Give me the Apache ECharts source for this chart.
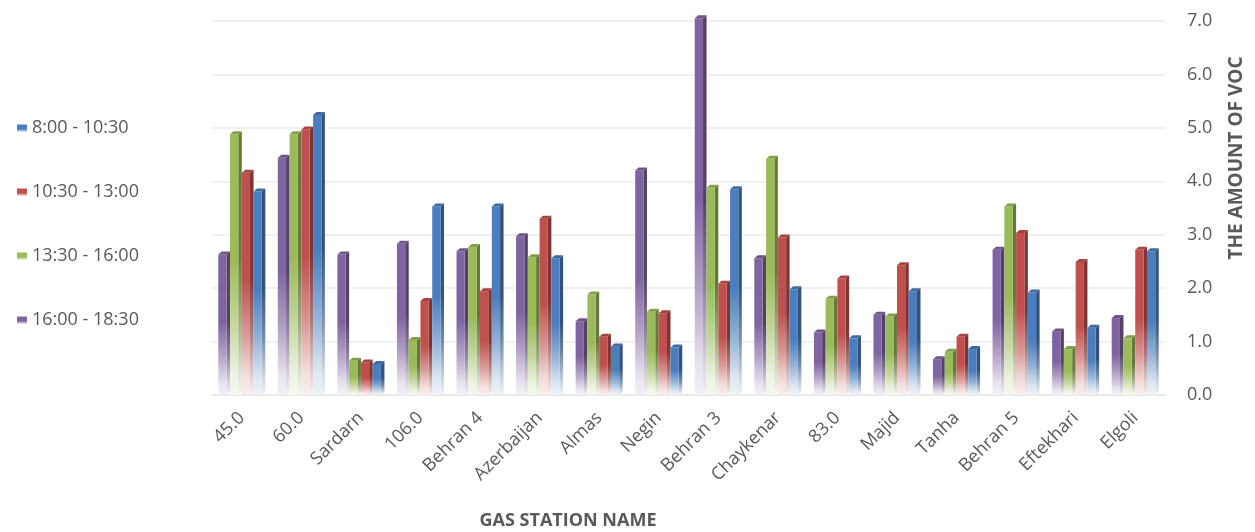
<!DOCTYPE html>
<html>
<head>
<meta charset="utf-8">
<title>VOC by gas station</title>
<script src="https://cdn.jsdelivr.net/npm/echarts@6/dist/echarts.min.js"></script>
<style>
  html, body { margin: 0; padding: 0; background: #fff; }
  #chart { width: 1255px; height: 532px; }
</style>
</head>
<body>
<div id="chart"></div>
<script>
// Gas stations along the category axis
const stations = ['45.0', '60.0', 'Sardarn', '106.0', 'Behran 4', 'Azerbaijan', 'Almas', 'Negin',
  'Behran 3', 'Chaykenar', '83.0', 'Majid', 'Tanha', 'Behran 5', 'Eftekhari', 'Elgoli'];

// Measured VOC per time window
const voc_1600_1830 = [2.63, 4.44, 2.63, 2.83, 2.69, 2.97, 1.38, 4.20, 7.05, 2.56, 1.17, 1.50, 0.67, 2.72, 1.19, 1.44];
const voc_1330_1600 = [4.88, 4.88, 0.64, 1.03, 2.77, 2.58, 1.88, 1.56, 3.88, 4.42, 1.80, 1.47, 0.81, 3.53, 0.86, 1.06];
const voc_1030_1300 = [4.16, 4.97, 0.61, 1.76, 1.94, 3.30, 1.09, 1.53, 2.08, 2.95, 2.18, 2.43, 1.09, 3.03, 2.49, 2.72];
const voc_0800_1030 = [3.81, 5.24, 0.58, 3.53, 3.53, 2.56, 0.91, 0.89, 3.85, 1.98, 1.06, 1.94, 0.86, 1.92, 1.26, 2.69];

const yTicks = [0, 1, 2, 3, 4, 5, 6, 7];

const FONT = '"Open Sans", "Liberation Sans", sans-serif';
const TEXT = '#595959';

// Series drawn left to right inside each group
const seriesDefs = [
  { name: '16:00 - 18:30', data: voc_1600_1830, color: '#8064A2' },
  { name: '13:30 - 16:00', data: voc_1330_1600, color: '#9BBB59' },
  { name: '10:30 - 13:00', data: voc_1030_1300, color: '#C0504D' },
  { name: '8:00 - 10:30',  data: voc_0800_1030, color: '#4A7EBF' }
];

// colour helpers working on [r, g, b]
function rgbOf(hex) {
  const n = parseInt(hex.slice(1), 16);
  return [(n >> 16) & 255, (n >> 8) & 255, n & 255];
}
function css(c) { return 'rgb(' + c.map(v => Math.round(v)).join(',') + ')'; }
function shade(hex, white, black) {
  // mix towards white first, then towards black
  let c = rgbOf(hex).map(v => v + (255 - v) * white);
  c = c.map(v => v * (1 - black));
  return css(c);
}

function faceGradient(hex, dark) {
  return {
    type: 'linear', x: 0, y: 0, x2: 0, y2: 1,
    colorStops: [
      { offset: 0, color: shade(hex, 0, dark) },
      { offset: 0.48, color: shade(hex, 0, dark) },
      { offset: 0.72, color: shade(hex, 0.4, dark * 0.6) },
      { offset: 0.92, color: shade(hex, 0.82, dark * 0.2) },
      { offset: 1, color: shade(hex, 0.9, 0) }
    ]
  };
}

const DX = 3.5, DY = 3;   // depth of the extruded bar faces

function renderBar(idx, color) {
  return function (params, api) {
    const cat = api.value(0);
    const val = api.value(1);
    const top = api.coord([cat, val]);
    const base = api.coord([cat, 0]);
    const band = api.size([1, 0])[0];
    const groupW = band * 0.79;
    const slot = groupW / seriesDefs.length;
    const x0 = base[0] - groupW / 2 + idx * slot;
    const fw = slot - DX;
    const yT = top[1], yB = base[1];
    return {
      type: 'group',
      children: [
        {
          type: 'polygon',
          shape: { points: [[x0 + fw, yT], [x0 + fw + DX, yT - DY], [x0 + fw + DX, yB - DY], [x0 + fw, yB]] },
          style: { fill: faceGradient(color, 0.35) }
        },
        {
          type: 'rect',
          shape: { x: x0, y: yT, width: fw, height: yB - yT },
          style: { fill: faceGradient(color, 0) }
        },
        {
          type: 'polygon',
          shape: { points: [[x0, yT], [x0 + DX, yT - DY], [x0 + fw + DX, yT - DY], [x0 + fw, yT]] },
          style: { fill: shade(color, 0, 0.15) }
        }
      ]
    };
  };
}

const chart = echarts.init(document.getElementById('chart'), null, { renderer: 'canvas' });

const legendOrder = ['8:00 - 10:30', '10:30 - 13:00', '13:30 - 16:00', '16:00 - 18:30'];

chart.setOption({
  backgroundColor: '#ffffff',
  animation: false,
  textStyle: { fontFamily: FONT },
  grid: { left: 212, right: 90, top: 21, bottom: 137 },
  legend: {
    orient: 'vertical',
    left: 12,
    top: 114,
    icon: 'rect',
    itemWidth: 10,
    itemHeight: 7,
    itemGap: 46,
    textStyle: { color: TEXT, fontSize: 18, fontFamily: FONT },
    data: legendOrder.map(n => {
      const d = seriesDefs.find(s => s.name === n);
      return {
        name: n,
        itemStyle: {
          color: { type: 'linear', x: 0, y: 0, x2: 0, y2: 1,
            colorStops: [{ offset: 0, color: d.color }, { offset: 0.6, color: d.color }, { offset: 1, color: shade(d.color, 0.6, 0) }] }
        }
      };
    })
  },
  xAxis: {
    type: 'category',
    data: stations,
    axisTick: { show: false },
    axisLine: { show: true, lineStyle: { color: '#E6E6E6', width: 1.5 } },
    axisLabel: { rotate: 45, color: TEXT, fontSize: 18, fontFamily: FONT, margin: 20, interval: 0 }
  },
  yAxis: {
    type: 'value',
    position: 'right',
    min: yTicks[0],
    max: yTicks[yTicks.length - 1],
    interval: 1,
    axisLine: { show: false },
    axisTick: { show: false },
    splitLine: { lineStyle: { color: '#EBEBEB', width: 1.5 } },
    axisLabel: { color: TEXT, fontSize: 18, fontFamily: FONT, margin: 22, formatter: v => v.toFixed(1) }
  },
  graphic: [
    {
      type: 'text',
      x: 1237, y: 158,
      rotation: Math.PI / 2,
      style: { text: 'THE AMOUNT OF VOC', fill: TEXT, font: 'bold 19px ' + FONT, align: 'center', verticalAlign: 'middle' }
    },
    {
      type: 'text',
      x: 568, y: 521,
      style: { text: 'GAS STATION NAME', fill: TEXT, font: 'bold 18px ' + FONT, align: 'center', verticalAlign: 'middle' }
    }
  ],
  series: seriesDefs.map((s, i) => ({
    name: s.name,
    type: 'custom',
    itemStyle: { color: s.color },
    encode: { x: 0, y: 1 },
    data: s.data.map((v, k) => [k, v]),
    renderItem: renderBar(i, s.color)
  }))
});
</script>
</body>
</html>
